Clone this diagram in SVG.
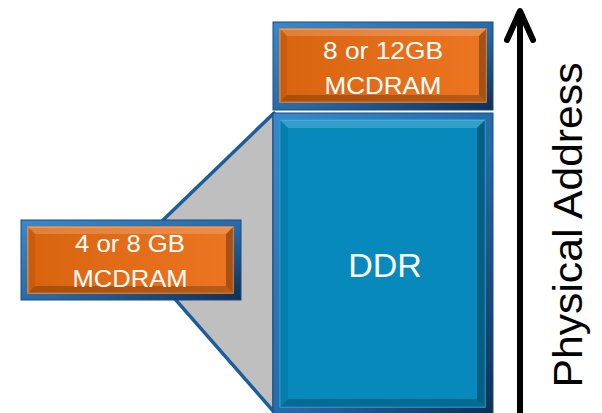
<svg xmlns="http://www.w3.org/2000/svg" width="602" height="413" viewBox="0 0 602 413">
  <defs>
    <linearGradient id="frameBlue" x1="0" y1="0" x2="1" y2="1">
      <stop offset="0" stop-color="#3A88CC"/>
      <stop offset="0.55" stop-color="#2768A6"/>
      <stop offset="1" stop-color="#0E2F55"/>
    </linearGradient>
    <linearGradient id="orangeFace" x1="0" y1="0" x2="1" y2="0">
      <stop offset="0" stop-color="#D9640E"/>
      <stop offset="1" stop-color="#EC7522"/>
    </linearGradient>
    <style>
      .frame { fill: url(#frameBlue); stroke: #1A4C7C; stroke-width: 1; }
      .face-orange { fill: url(#orangeFace); stroke: #F98A2C; stroke-width: 1.5; }
      .face-blue { fill: #0789BC; stroke: #1FA2D6; stroke-width: 1.5; }
      .bev-top { fill: #FFFFFF; fill-opacity: 0.18; }
      .bev-left { fill: #000000; fill-opacity: 0.08; }
      .bev-right { fill: #000000; fill-opacity: 0.3; }
      .bev-bottom { fill: #000000; fill-opacity: 0.22; }
      .label { fill: #FFFFFF; font-family: "Liberation Sans", Arial, sans-serif; text-anchor: middle; }
      .wedge { fill: #BFBFBF; stroke: #1B5E9C; stroke-width: 3.5; stroke-linejoin: round; }
      .axis { fill: none; stroke: #000000; stroke-width: 6; stroke-linecap: round; stroke-linejoin: round; }
    </style>
  </defs>

  <!-- zoom wedge from the small MCDRAM block to the DDR range -->
  <g id="connectors">
    <polygon class="wedge" points="132,250 274,113 274,412"/>
  </g>

  <!-- DDR region -->
  <g id="ddr">
    <rect class="frame" x="273" y="113" width="220" height="302"/>
    <rect class="face-blue" x="280" y="120" width="205" height="287"/>
    <polygon class="bev-top" points="280,120 485,120 477,128 288,128"/>
    <polygon class="bev-left" points="280,120 288,128 288,399 280,407"/>
    <polygon class="bev-right" points="485,120 485,407 477,399 477,128"/>
    <polygon class="bev-bottom" points="280,407 485,407 477,399 288,399"/>
    <text class="label" x="385" y="277" font-size="34">DDR</text>
  </g>

  <!-- MCDRAM block at the top of the address space -->
  <g id="mcdram-top">
    <rect class="frame" x="273" y="22" width="220" height="88"/>
    <rect class="face-orange" x="280" y="29" width="206" height="73"/>
    <polygon class="bev-top" points="280,29 486,29 479,36 287,36"/>
    <polygon class="bev-left" points="280,29 287,36 287,95 280,102"/>
    <polygon class="bev-right" points="486,29 486,102 479,95 479,36"/>
    <polygon class="bev-bottom" points="280,102 486,102 479,95 287,95"/>
    <text class="label" x="383" y="59" font-size="24" textLength="120" lengthAdjust="spacingAndGlyphs">8 or 12GB</text>
    <text class="label" x="383" y="94" font-size="24" textLength="117" lengthAdjust="spacingAndGlyphs">MCDRAM</text>
  </g>

  <!-- MCDRAM block mapped into the DDR range -->
  <g id="mcdram-cache">
    <rect class="frame" x="21" y="220" width="220" height="80"/>
    <rect class="face-orange" x="28" y="227" width="205" height="66"/>
    <polygon class="bev-top" points="28,227 233,227 226,234 35,234"/>
    <polygon class="bev-left" points="28,227 35,234 35,286 28,293"/>
    <polygon class="bev-right" points="233,227 233,293 226,286 226,234"/>
    <polygon class="bev-bottom" points="28,293 233,293 226,286 35,286"/>
    <text class="label" x="130" y="252" font-size="24" textLength="110" lengthAdjust="spacingAndGlyphs">4 or 8 GB</text>
    <text class="label" x="130" y="287" font-size="24" textLength="115" lengthAdjust="spacingAndGlyphs">MCDRAM</text>
  </g>

  <!-- physical address axis -->
  <g id="address-axis">
    <path class="axis" d="M520,416 V12 M507,40 L520,11 L533,40"/>
    <text x="-225" y="582" transform="rotate(-90)" font-family="Liberation Sans, Arial, sans-serif" font-size="40" text-anchor="middle" fill="#000000" textLength="325" lengthAdjust="spacingAndGlyphs">Physical Address</text>
  </g>
</svg>
